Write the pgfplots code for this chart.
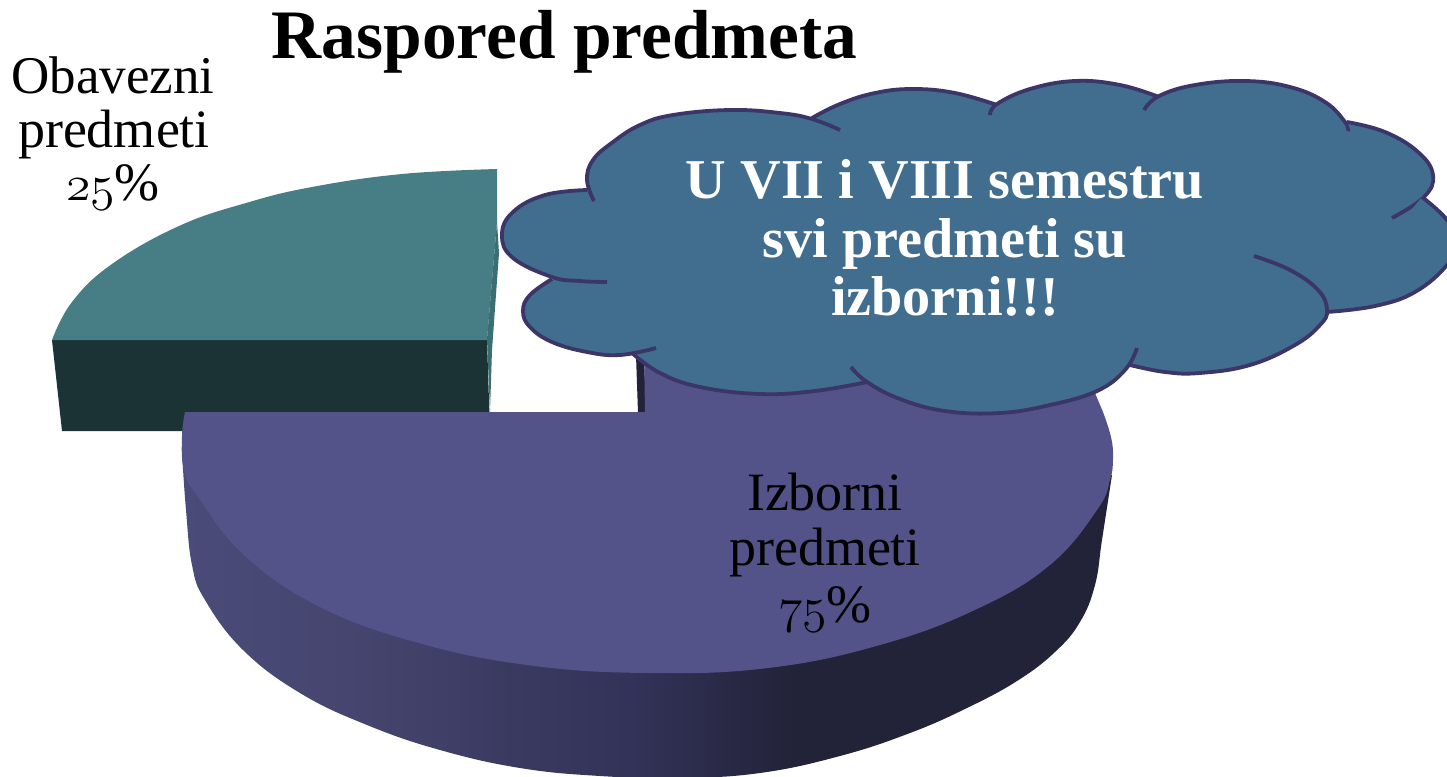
\documentclass[border=0pt]{standalone}
\usepackage{fontspec}
\usepackage{pgfplots}
\pgfplotsset{compat=1.18}
\setmainfont{Liberation Serif}
\definecolor{tealtop}{HTML}{477D85}
\definecolor{tealside}{HTML}{3B6E72}
\definecolor{tealdark}{HTML}{1B3335}
\definecolor{purpletop}{HTML}{53538A}
\definecolor{purpledark}{HTML}{222238}
\definecolor{cloudfill}{HTML}{416E8E}
\definecolor{cloudline}{HTML}{3B3568}
\definecolor{sa}{HTML}{4B4B7A}
\definecolor{sb}{HTML}{45456F}
\definecolor{sc}{HTML}{3B3B62}
\definecolor{sd}{HTML}{33335A}
\pgfdeclarehorizontalshading{sideshade}{100bp}{color(0bp)=(sa); color(25bp)=(sa); color(34bp)=(sb); color(42bp)=(sc); color(49bp)=(sd); color(58bp)=(purpledark); color(100bp)=(purpledark)}
\newcommand{\old}[1]{{\fontsize{33}{34}\usefont{OML}{cmm}{m}{it}#1}}
\begin{document}
\begin{tikzpicture}
\begin{axis}[scale only axis,width=723.5pt,height=388.5pt,xmin=0,xmax=1447,ymin=0,ymax=777,y dir=reverse,hide axis,
  lobe/.style={smooth,tension=0.7,fill=cloudfill,draw=cloudline,line width=1.9pt}]
% green slice
\addplot[fill=tealdark,draw=none] coordinates {(52,340)(487,340)(490,431)(62,431)} -- cycle;
\addplot[fill=tealtop,draw=none] coordinates {(52,340)(179,240)(312,195)(402,180)(497,169)(497,222)(487,340)} -- cycle;
\addplot[smooth,tension=0.7,fill=tealtop,draw=none] coordinates {(52,340)(72,302)(112,264)(179,226)(246,203)(312,187)(402,174)(497,169)};
\addplot[fill=tealside,draw=none] coordinates {(497,222)(499,253)(492,350)(490,412)(487,339)} -- cycle;
% dark inner edge
\addplot[fill=purpledark,draw=none] coordinates {(636,355)(644,355)(646,413)(638,413)} -- cycle;
% purple side
\addplot[smooth,tension=0.7,shading=sideshade,draw=none] coordinates {(182,453)(186,510)(192,565)(205,600)(243,650)(300,693)(367,725)(440,750)(520,768)(600,776)(680,778)(760,773)(840,756)(910,733)(967,708)(1017,681)(1055,652)(1080,622)(1095,585)(1102,540)(1112,475)};
% purple top
\addplot[fill=purpletop,draw=none] coordinates {(645,412)(650,450)(1100,450)(1103,412)(1095,393)(1060,350)(644,350)} -- cycle;
\addplot[smooth,tension=0.7,fill=purpletop,draw=none] coordinates {(185,412)(182,436)(184,470)(198,497)(244,555)(318,606)(415,642)(527,665)(647,673)(768,668)(880,645)(977,609)(1050,565)(1097,510)(1110,480)(1113,458)(1111,437)(1103,412)};
% cloud body
\addplot[fill=cloudfill,draw=none] coordinates {(587,190)(700,125)(812,118)(905,100)(997,105)(1075,92)(1159,97)(1245,90)(1347,122)(1400,155)(1422,197)(1440,250)(1380,295)(1327,312)(1290,335)(1130,365)(1000,405)(867,382)(760,388)(632,353)(580,345)(552,278)(515,235)} -- cycle;
% cloud lobes: outline runs on into the short inner strokes
\addplot[lobe] coordinates {(587,190)(545,195)(513,212)(502,235)(513,258)(552,277)(580,281)(607,282)};
\addplot[lobe] coordinates {(594,201)(587,180)(593,160)(613,142)(640,125)(673,115)(730,110)(780,113)(812,119)(840,130)};
\addplot[lobe] coordinates {(812,118)(840,104)(875,93)(913,89)(955,93)(997,105)};
\addplot[lobe] coordinates {(990,115)(997,104)(1030,89)(1075,81)(1120,85)(1159,97)};
\addplot[lobe] coordinates {(1144,110)(1159,96)(1195,85)(1245,81)(1290,87)(1325,102)(1345,122)(1348,131)};
\addplot[lobe] coordinates {(1347,122)(1385,132)(1418,152)(1433,175)(1424,197)(1392,218)};
\addplot[lobe] coordinates {(1422,197)(1447,220)(1456,243)(1447,265)(1415,292)(1375,306)(1327,312)};
\addplot[lobe] coordinates {(1130,365)(1165,372)(1200,373)(1250,365)(1295,345)(1320,325)(1327,310)(1318,290)(1290,270)(1254,256)};
\addplot[lobe] coordinates {(851,367)(867,382)(900,399)(945,411)(1000,413)(1050,405)(1097,391)(1125,370)(1137,348)};
\addplot[lobe] coordinates {(632,353)(660,373)(700,387)(760,394)(815,391)(867,382)};
\addplot[lobe] coordinates {(552,279)(530,295)(523,311)(530,327)(552,342)(587,352)(620,355)(656,348)};
% texts
\node[anchor=base,font=\fontsize{34.7}{36}\selectfont\bfseries] at (axis cs:564.5,58) {Raspored predmeta};
\node[anchor=base,font=\fontsize{26.5}{28}\selectfont] at (axis cs:113,93) {Obavezni};
\node[anchor=base,font=\fontsize{27}{28}\selectfont] at (axis cs:114,147) {predmeti};
\node[anchor=base,font=\fontsize{27}{28}\selectfont] at (axis cs:113,200) {\old{25}\%};
\node[anchor=base,font=\fontsize{27}{28}\selectfont] at (axis cs:825,510) {Izborni};
\node[anchor=base,font=\fontsize{27}{28}\selectfont] at (axis cs:825,565) {predmeti};
\node[anchor=base,font=\fontsize{27}{28}\selectfont] at (axis cs:825,622) {\old{75}\%};
\node[anchor=base,text=white,font=\fontsize{28.1}{29}\selectfont\bfseries] at (axis cs:945,198) {U VII i VIII semestru};
\node[anchor=base,text=white,font=\fontsize{28.1}{29}\selectfont\bfseries] at (axis cs:945,257) {svi predmeti su};
\node[anchor=base,text=white,font=\fontsize{28.1}{29}\selectfont\bfseries] at (axis cs:945,315) {izborni!!!};
\end{axis}
\pgfresetboundingbox
\path[use as bounding box] (0,0) rectangle (723.5pt,388.5pt);
\end{tikzpicture}
\end{document}
